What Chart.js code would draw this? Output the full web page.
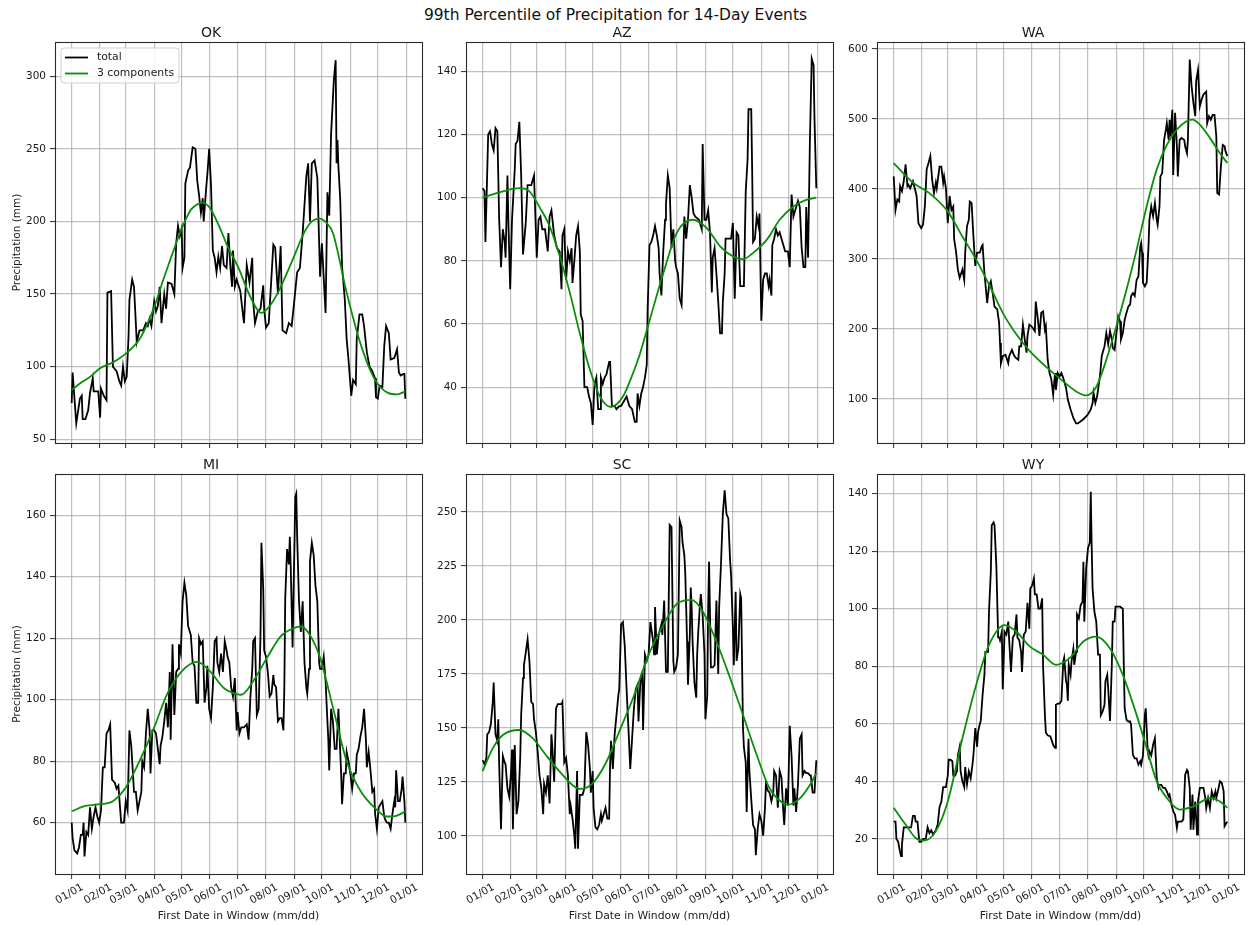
<!DOCTYPE html>
<html><head><meta charset="utf-8">
<script src="https://cdn.jsdelivr.net/npm/chart.js@4.4.1/dist/chart.umd.min.js"></script>
<style>
html,body{margin:0;padding:0;background:#fff;}
#wrap{position:relative;width:1250px;height:925px;overflow:hidden;font-family:"DejaVu Sans",sans-serif;}
#suptitle{position:absolute;left:0;width:1231px;top:6px;text-align:center;font-size:15.5px;line-height:18px;color:#111;}
canvas{position:absolute;}
</style></head><body>
<div id="wrap"><div id="suptitle">99th Percentile of Precipitation for 14-Day Events</div></div>
<script>
// ---------- tick labels ----------
const monthStart = [0,31,59,90,120,151,181,212,243,273,304,334,365];
const monthLabels = ['01/01','02/01','03/01','04/01','05/01','06/01','07/01','08/01','09/01','10/01','11/01','12/01','01/01'];
const yTicksOK = [50,100,150,200,250,300];
const yTicksAZ = [40,60,80,100,120,140];
const yTicksWA = [100,200,300,400,500,600];
const yTicksMI = [60,80,100,120,140,160];
const yTicksSC = [100,125,150,175,200,225,250];
const yTicksWY = [20,40,60,80,100,120,140];

// ---------- OK ----------
const dayOK = [0,1,5,9,11,12,15,18,20,23,24,29,31,32,35,38,39,43,45,49,52,54,56,58,60,62,63,66,68,70,71,74,78,81,83,85,87,90,92,94,96,98,101,103,105,109,112,114,116,118,120,121,123,124,127,129,132,135,137,139,141,143,144,147,148,150,152,154,156,158,160,162,164,166,169,171,173,175,176,178,180,184,187,188,191,194,197,198,200,203,206,209,210,212,215,220,222,225,228,230,234,237,240,242,246,249,252,256,258,260,262,265,268,271,273,277,279,281,283,286,288,289,290,291,293,295,298,300,302,305,307,310,311,314,317,319,322,325,328,331,332,334,336,339,341,343,346,348,352,355,357,359,362,363,364];
const totalOK = [75,96,61,78,80,64,64,70,82,92,83,83,65,85,80,77,151,152,100,97,90,87,100,90,93,120,146,160,155,130,117,125,125,130,128,133,128,145,138,142,155,130,150,140,158,157,150,185,197,190,195,168,175,226,235,237,251,250,228,218,206,216,200,225,232,250,225,180,175,165,176,168,183,170,168,192,170,155,180,155,160,152,135,130,170,158,175,145,130,138,140,156,140,127,130,184,182,150,183,125,123,130,128,140,165,168,192,231,240,200,240,242,230,162,185,137,220,204,260,297,311,240,256,238,215,169,146,119,105,80,91,88,119,136,136,128,110,100,97,92,79,78,87,86,114,128,123,105,106,112,96,94,95,95,78];
const fitDayOK = [0,10,20,31,45,59,75,90,100,110,120,130,135,142,150,160,170,182,195,207,215,225,240,255,262,270,278,285,300,315,330,345,355,364];
const fitOK = [84,89,93,99,103,109,120,141,160,178,195,208,211,213,210,198,183,168,148,137,141,151,172,194,200,202,199,192,151,116,92,82,81,83];

// ---------- AZ ----------
const dayAZ = [0,2,3,6,8,10,12,14,16,18,20,22,24,25,27,28,30,32,35,36,38,40,42,44,47,49,53,56,59,61,63,65,68,71,73,75,78,81,84,86,87,89,91,93,95,97,98,100,102,104,106,107,109,111,114,116,118,120,122,124,126,128,129,131,133,135,138,139,141,144,146,149,151,155,157,160,163,166,168,169,171,173,175,177,179,180,182,184,186,188,190,192,193,195,197,199,200,202,204,206,208,210,211,213,215,217,219,220,222,224,226,228,230,232,236,239,240,242,244,246,248,250,251,253,255,257,259,261,262,264,265,268,271,273,275,277,279,281,282,285,287,289,290,293,294,295,297,299,301,302,304,306,308,310,312,313,315,316,318,320,322,324,326,328,330,333,335,337,339,341,342,344,346,348,350,352,353,355,357,359,361,362,364];
const totalAZ = [103,102,86,120,121,117,115,122,121,93,78,90,86,81,107,93,71,93,109,117,118,124,107,82,92,104,104,107,81,93,94,90,90,83,94,96,88,84,83,71,88,90,74,83,80,84,73,80,88,91,83,63,61,40,40,37,35,28,41,43,33,33,43,41,43,44,48,48,34,34,33,34,34,36,37,34,33,29,29,38,34,38,40,43,47,65,85,86,88,91,88,84,76,69,83,93,98,107,103,84,90,80,78,76,68,66,83,94,87,93,104,100,95,94,93,90,117,93,93,96,89,70,81,84,76,67,57,57,67,76,87,87,87,92,68,89,88,72,72,72,102,112,128,128,109,86,87,94,91,95,61,74,76,76,72,74,69,85,87,90,88,89,87,85,83,83,78,101,94,96,97,99,97,84,78,78,97,81,118,144,142,125,103];
const fitDayAZ = [0,22,40,51,62,73,84,95,106,117,128,140,153,164,171,181,197,212,229,244,259,273,284,295,310,324,339,353,364];
const fitAZ = [100,102,103,102,97,91,81.5,70,57,45.5,37,33.7,37,44.4,50,60,76,89,93,90.5,84.6,81.4,80.5,82.5,86.7,93,97.2,99.3,100];

// ---------- WA ----------
const dayWA = [0,2,4,6,7,9,11,13,15,16,18,21,23,25,27,30,32,34,36,38,40,42,44,46,47,50,52,54,55,57,59,61,63,65,66,68,70,72,75,77,78,80,82,83,85,87,89,91,94,96,97,99,102,104,106,108,110,113,115,116,117,119,122,125,126,129,131,133,136,137,139,141,143,145,146,148,150,152,154,155,157,159,161,163,165,166,168,170,172,174,176,177,179,181,183,185,188,190,193,196,199,201,204,207,210,212,215,217,218,220,222,224,225,227,228,230,232,234,236,238,239,241,243,245,247,248,250,252,254,256,258,259,261,263,265,267,269,270,271,272,274,276,278,279,281,283,285,287,288,290,291,293,295,297,298,300,301,302,304,305,307,309,310,312,314,317,318,320,321,323,325,327,329,330,332,334,336,338,341,342,344,346,348,350,352,353,355,357,359,361,362,364];
const totalWA = [418,370,385,382,404,397,411,435,404,406,401,411,401,390,351,344,349,375,428,437,447,413,394,409,401,432,432,409,418,401,351,390,370,375,328,311,285,273,285,270,309,347,356,382,380,332,290,309,309,318,320,280,237,261,268,251,232,228,209,180,151,161,163,151,161,170,163,159,156,175,175,206,185,166,190,206,204,201,197,239,218,190,223,225,199,204,156,137,128,106,137,113,137,132,137,130,116,99,85,73,65,65,68,71,75,78,85,94,109,94,104,123,132,161,166,175,194,178,197,185,173,170,194,218,211,185,194,213,223,232,235,247,251,247,270,275,318,323,309,266,261,266,318,356,375,361,380,356,349,375,418,423,470,485,494,470,499,475,513,420,509,461,418,470,473,470,461,451,470,585,547,523,504,554,570,518,528,535,539,494,504,499,506,506,475,394,392,432,463,461,454,447];
const fitDayWA = [0,21,39,59,75,90,105,119,134,148,167,185,200,210,221,232,243,254,265,276,287,298,309,320,326,334,345,356,364];
const fitWA = [437,409,394,368,332,299,261,223,192,169,145,125,110,105,117,156,204,256,313,375,428,463,485,497,499,492,473,451,437];

// ---------- MI ----------
const dayMI = [0,1,3,6,8,10,12,13,14,16,18,20,22,24,26,28,30,32,34,36,38,40,42,44,47,49,51,53,54,57,59,61,63,65,66,68,70,72,74,76,77,79,81,83,85,86,88,90,92,94,96,97,99,101,103,105,107,108,110,112,114,116,117,119,121,123,125,127,128,130,132,134,136,138,139,141,143,145,147,148,150,152,154,156,158,159,161,163,165,167,169,170,172,174,176,178,180,181,183,185,188,191,193,195,197,198,200,202,204,206,207,209,210,212,214,216,218,220,221,223,225,227,229,231,232,233,235,237,238,239,241,242,244,245,246,248,250,252,254,256,257,259,260,262,264,266,268,270,271,273,275,277,279,280,281,283,285,287,289,291,292,294,295,297,299,300,302,304,306,308,310,311,313,315,317,319,321,322,324,326,328,330,331,333,335,337,339,341,342,344,346,348,350,352,353,354,356,358,360,361,363,364];
const totalMI = [60,55,51,50,52,56,56,60,49,57,56,65,58,62,65,62,60,64,78,78,89,90,92,74,73,71,72,64,60,60,67,64,90,85,80,70,70,64,67,70,80,78,89,97,90,76,90,90,89,84,79,85,88,93,99,91,109,87,118,95,109,110,118,115,132,138,134,124,123,121,112,111,99,99,120,118,119,99,104,111,97,94,104,119,120,112,109,115,109,119,116,114,112,104,101,107,90,96,89,91,91,92,87,101,110,119,120,95,97,121,151,136,116,114,109,101,102,108,105,104,93,94,94,90,104,133,149,144,153,143,117,134,166,167,153,132,122,132,112,104,102,110,145,151,147,137,132,112,110,110,114,106,93,87,77,97,93,84,84,97,90,76,66,76,76,83,80,76,71,76,76,82,84,88,91,97,87,78,83,77,70,71,63,58,65,66,67,62,61,60,60,58,63,67,65,77,67,67,71,75,67,60];
const fitDayMI = [0,16,31,45,59,74,90,104,120,137,151,166,180,185,198,213,228,240,250,260,271,286,300,315,330,344,355,364];
const fitMI = [63.7,65.5,66,67,71.4,80,91,101.7,109.2,112.3,109.2,103.8,101.8,101.6,106,113.6,120.6,123,123.8,121,113.6,96.3,80,70.4,65,62,62.3,63.7];

// ---------- SC ----------
const daySC = [0,2,4,5,7,9,11,12,14,16,17,18,20,22,24,25,27,29,31,32,33,35,37,39,41,42,44,45,47,49,51,53,55,56,58,60,62,64,66,67,69,71,73,75,76,78,80,82,84,86,87,89,91,93,95,96,98,100,101,103,104,106,108,109,111,113,115,117,118,120,121,123,125,127,129,130,132,134,136,138,139,140,142,144,146,148,149,151,153,155,157,159,161,163,165,167,169,170,172,174,175,177,179,181,183,186,187,188,190,192,195,196,198,200,202,204,206,208,209,211,213,215,217,218,220,221,223,224,226,227,228,229,231,233,234,235,237,238,240,242,243,245,246,247,249,251,253,255,257,258,260,262,264,266,268,270,271,273,274,276,277,279,281,282,284,285,287,288,290,291,293,295,297,298,300,302,304,306,308,309,311,313,315,317,318,320,322,324,326,328,329,331,333,335,337,339,340,342,344,346,348,349,351,353,355,357,358,360,362,364];
const totalSC = [135,133,136,147,148,152,162,171,147,144,154,133,103,137,134,133,122,118,130,140,103,142,110,116,137,156,173,179,185,191,181,162,161,154,148,139,128,122,110,124,120,128,115,147,141,125,159,161,161,161,162,134,136,128,110,114,108,100,94,130,94,119,119,119,122,148,142,131,120,130,113,104,103,105,110,107,110,113,108,108,133,144,131,147,156,165,168,198,199,188,168,150,131,145,159,168,170,153,171,176,149,184,181,184,199,190,184,206,184,193,198,193,209,176,176,244,243,181,176,178,184,246,243,236,230,222,190,170,193,215,206,190,171,164,184,193,207,212,202,184,154,165,206,227,178,178,179,209,175,206,226,249,260,249,247,227,221,196,179,213,181,187,212,210,150,141,134,111,145,130,117,105,103,91,103,110,107,100,113,124,121,120,116,120,130,128,113,130,127,111,105,122,114,151,137,114,122,111,124,145,147,128,130,129,129,128,128,120,120,135];
const fitDaySC = [0,11,22,40,55,69,84,98,106,120,135,149,164,181,197,213,228,240,255,270,284,299,313,328,333,346,357,364];
const fitSC = [130,140.5,146.7,149,145,137.4,129.7,123.5,121.7,124.3,134.3,148.3,163.7,183.8,197.7,207.8,209.3,204,190,173,156,137.4,122,115,114.4,117.3,123.5,129];

// ---------- WY ----------
const dayWY = [0,2,3,5,6,8,9,11,13,15,19,21,23,24,26,28,30,32,35,37,39,41,43,46,48,50,52,54,57,59,60,62,64,65,67,69,70,72,73,75,77,78,80,82,84,86,87,89,91,92,94,95,97,99,100,103,104,106,107,109,110,112,114,115,116,118,119,121,123,125,126,128,130,132,134,135,137,139,140,142,144,146,148,149,151,153,154,156,158,160,162,163,165,166,168,171,174,176,177,179,181,183,185,186,188,189,190,191,193,194,196,197,199,200,202,204,206,207,208,210,212,214,215,216,217,219,221,223,225,226,228,230,231,233,234,236,238,239,241,242,247,250,251,252,254,256,258,259,261,263,265,267,269,270,272,274,275,277,278,279,281,283,285,287,289,290,292,294,296,298,300,301,303,305,307,309,310,312,314,316,318,320,321,323,324,326,327,329,331,332,334,336,338,340,341,343,345,347,349,351,352,354,356,358,360,361,363,364];
const totalWY = [26,26,20,19,17,14,18,24,24,24,24,28,28,26,26,19,19,20,20,24,22,23,21.5,23,25,31,33,38,38,42,47.5,47.5,47,42,42,43.5,49,52,43.5,40,38,45,39,43.5,41,46,49,58.5,52,57,60,61,70,77,85,85,99,113,129,130,129,115,90,90,89,92,72,92,91,95.5,89,78,90,91,98,90,89,85,78,91,92,102,93,107,108,110.5,105,105,100,100,103.6,80,63,57,56,55.6,52.7,51.6,66.6,67,67,68,81.6,83,75,73.5,68,80.5,77,81.6,86,80.5,85,98,96.6,101.3,102.4,116.3,95.5,114,121,123,140.6,122,107,99,95.5,84,84,63,64.3,66.6,74.7,77,72.4,61,80.5,95.5,95.5,100.7,100.7,100,81.6,65.4,61.4,60.8,60.8,59.7,49.2,48,48,45.8,47,45.8,49,63,65.4,51.6,49,50.4,49,52.7,55,41,37.7,38.8,38.8,37.7,37.7,36.5,34.8,35.4,32,29.6,28.4,23.8,26,26,26,26.7,42.3,44,43.5,37.7,23.2,35.4,23.2,33,21.5,33,37.7,37.7,37.7,34.2,30.7,34.2,30.7,36.5,34.2,36.5,34.2,37,40,39.4,36.5,24.4,25.5,26];
const fitDayWY = [0,13,24,33,46,59,75,90,104,121,134,148,163,177,192,207,221,236,250,265,276,287,298,312,327,345,356,364];
const fitWY = [30.8,25,20.3,19.4,22.7,33,55,73.5,87.4,94.3,92,87,84,80.5,82.8,88.6,90.3,86.2,77,63.1,51.6,40,34.2,30.2,31.3,34.2,33,30.8];

// ---------- layout / style (not data) ----------
const FONT = 'DejaVu Sans';
Chart.defaults.font.family = FONT;
const colLeft = [55, 466, 877], rowTop = [42, 474], plotW = 367, plotH = [401, 400];
const ML = 55, MT = 26, MR = 10, MBtop = 12, MBbot = 51;
const GRID = 'rgba(165,165,165,0.7)';
const TXT = '#1a1a1a';

const framePlugin = {
  id: 'frame',
  afterDraw(c) {
    const a = c.chartArea, ctx = c.ctx;
    ctx.save(); ctx.strokeStyle = '#2a2a2a'; ctx.lineWidth = 1.1;
    ctx.strokeRect(Math.round(a.left) + 0.5, Math.round(a.top) + 0.5, Math.round(a.right - a.left), Math.round(a.bottom - a.top));
    ctx.restore();
  }
};
const legendPlugin = {
  id: 'insideLegend',
  afterDraw(c, args, opts) {
    if (!opts || !opts.show) return;
    const ctx = c.ctx, a = c.chartArea;
    ctx.save();
    ctx.font = '10.8px "' + FONT + '"';
    const ds = c.data.datasets;
    let tw = 0; ds.forEach(d => { tw = Math.max(tw, ctx.measureText(d.label).width); });
    const x = a.left + 6, y = a.top + 6, w = 36 + tw + 5, h = 35, r = 3;
    ctx.beginPath();
    ctx.moveTo(x + r, y); ctx.lineTo(x + w - r, y); ctx.quadraticCurveTo(x + w, y, x + w, y + r);
    ctx.lineTo(x + w, y + h - r); ctx.quadraticCurveTo(x + w, y + h, x + w - r, y + h);
    ctx.lineTo(x + r, y + h); ctx.quadraticCurveTo(x, y + h, x, y + h - r);
    ctx.lineTo(x, y + r); ctx.quadraticCurveTo(x, y, x + r, y); ctx.closePath();
    ctx.fillStyle = 'rgba(255,255,255,0.85)'; ctx.fill();
    ctx.strokeStyle = '#d0d0d0'; ctx.lineWidth = 1; ctx.stroke();
    ds.forEach((d, i) => {
      const cy = y + 9.5 + i * 16;
      ctx.strokeStyle = d.borderColor; ctx.lineWidth = 1.8;
      ctx.beginPath(); ctx.moveTo(x + 4, cy); ctx.lineTo(x + 27, cy); ctx.stroke();
      ctx.fillStyle = TXT; ctx.textBaseline = 'middle'; ctx.textAlign = 'left';
      ctx.fillText(d.label, x + 36, cy);
    });
    ctx.restore();
  }
};

const panels = [
  {name: 'OK', col: 0, row: 0, days: dayOK, total: totalOK, fitDays: fitDayOK, fit: fitOK, yMin: 47.5, yMax: 323.5, yTicks: yTicksOK, legend: true},
  {name: 'AZ', col: 1, row: 0, days: dayAZ, total: totalAZ, fitDays: fitDayAZ, fit: fitAZ, yMin: 22.3, yMax: 149.3, yTicks: yTicksAZ},
  {name: 'WA', col: 2, row: 0, days: dayWA, total: totalWA, fitDays: fitDayWA, fit: fitWA, yMin: 37, yMax: 610, yTicks: yTicksWA},
  {name: 'MI', col: 0, row: 1, days: dayMI, total: totalMI, fitDays: fitDayMI, fit: fitMI, yMin: 43.3, yMax: 173.4, yTicks: yTicksMI},
  {name: 'SC', col: 1, row: 1, days: daySC, total: totalSC, fitDays: fitDaySC, fit: fitSC, yMin: 82.3, yMax: 267.6, yTicks: yTicksSC},
  {name: 'WY', col: 2, row: 1, days: dayWY, total: totalWY, fitDays: fitDayWY, fit: fitWY, yMin: 7.8, yMax: 146.8, yTicks: yTicksWY}
];

const wrap = document.getElementById('wrap');
panels.forEach(p => {
  const bottomRow = p.row === 1, leftCol = p.col === 0;
  const w = ML + plotW + MR, h = MT + plotH[p.row] + (bottomRow ? MBbot : MBtop);
  const cv = document.createElement('canvas');
  cv.width = w; cv.height = h;
  cv.style.left = (colLeft[p.col] - ML) + 'px';
  cv.style.top = (rowTop[p.row] - MT) + 'px';
  cv.style.width = w + 'px'; cv.style.height = h + 'px';
  wrap.appendChild(cv);
  new Chart(cv, {
    type: 'line',
    data: {datasets: [
      {label: 'total', data: p.days.map((d, i) => ({x: d, y: p.total[i]})), borderColor: '#000000', borderWidth: 1.8, pointRadius: 0, tension: 0, order: 2},
      {label: '3 components', data: p.fitDays.map((d, i) => ({x: d, y: p.fit[i]})), borderColor: '#0a8f0a', borderWidth: 1.8, pointRadius: 0, cubicInterpolationMode: 'monotone', order: 1}
    ]},
    options: {
      responsive: false, animation: false, devicePixelRatio: 1,
      layout: {padding: {left: 0, right: MR, top: 0, bottom: 0}},
      plugins: {
        legend: {display: false}, tooltip: {enabled: false},
        title: {display: true, text: p.name, color: TXT, font: {family: FONT, size: 14, weight: 'normal', lineHeight: 1.2}, padding: {top: 9, bottom: 0.2}},
        insideLegend: {show: !!p.legend}
      },
      scales: {
        x: {
          type: 'linear', min: -18.2, max: 382.2,
          afterBuildTicks: s => { s.ticks = monthStart.map(v => ({value: v})); },
          afterFit: s => { s.height = bottomRow ? MBbot : MBtop; },
          ticks: {display: bottomRow, autoSkip: false, minRotation: 30, maxRotation: 30, color: TXT, font: {family: FONT, size: 10.5}, padding: 2, labelOffset: 11,
                  callback: (v, i) => monthLabels[i]},
          grid: {color: GRID, lineWidth: 1.2, drawTicks: true, tickLength: 5, tickColor: '#2a2a2a', tickWidth: 1},
          border: {display: false},
          title: {display: bottomRow, text: 'First Date in Window (mm/dd)', color: TXT, font: {family: FONT, size: 10.8}, padding: {top: 0, bottom: 2}}
        },
        y: {
          type: 'linear', min: p.yMin, max: p.yMax,
          afterBuildTicks: s => { s.ticks = p.yTicks.map(v => ({value: v})); },
          afterFit: s => { s.width = ML; },
          ticks: {color: TXT, font: {family: FONT, size: 10.5}, padding: 4, callback: v => String(v)},
          grid: {color: GRID, lineWidth: 1.2, drawTicks: true, tickLength: 5, tickColor: '#2a2a2a', tickWidth: 1},
          border: {display: false},
          title: {display: leftCol, text: 'Precipitation (mm)', color: TXT, font: {family: FONT, size: 10.5}, padding: {top: 11, bottom: 0}}
        }
      }
    },
    plugins: [framePlugin, legendPlugin]
  });
});
</script>
</body></html>
